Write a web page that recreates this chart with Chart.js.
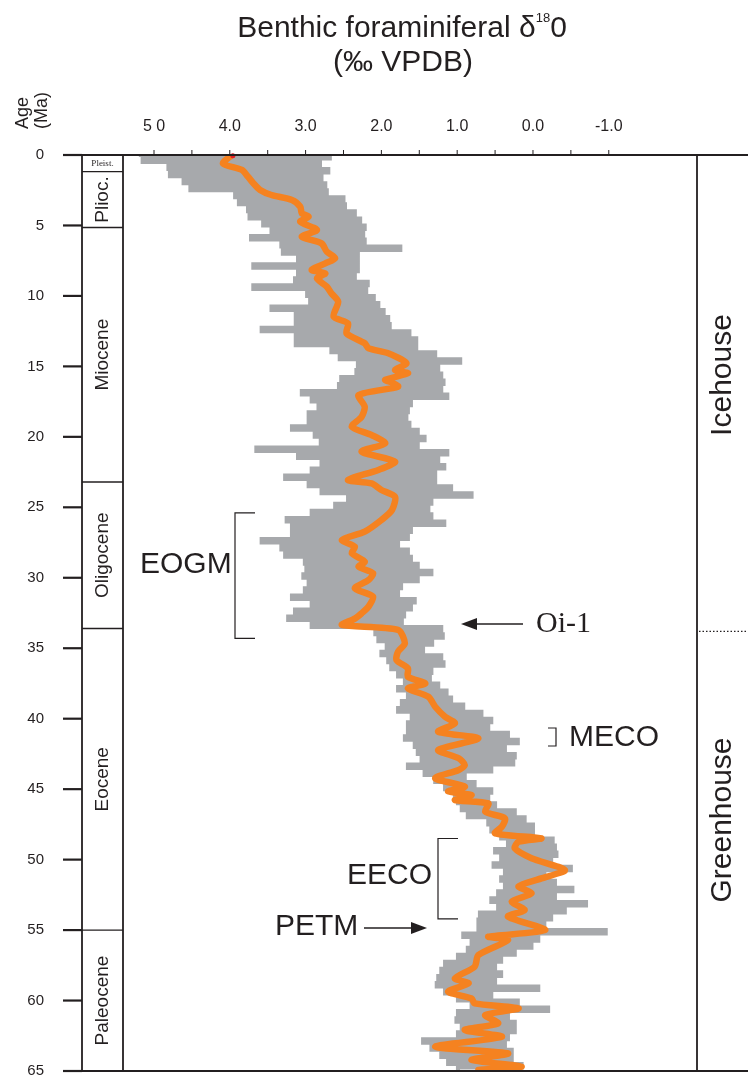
<!DOCTYPE html>
<html>
<head>
<meta charset="utf-8">
<script src="https://cdn.jsdelivr.net/npm/chart.js@4.4.1/dist/chart.umd.min.js"></script>
<style>
  body { margin: 0; background: #fff; }
  canvas { display: block; }
</style>
</head>
<body>
<canvas id="isoChart" width="748" height="1081"></canvas>
<script>
// smoothed curve (orange) : age in Ma / d18O in permil
const orangeAge = [0, 0.6, 1.06, 1.54, 2.0, 2.48, 2.84, 3.19, 3.67, 4.14, 4.38, 4.73, 5.32, 5.8, 6.27, 6.86, 7.33, 7.69,
  8.16, 8.4, 8.75, 9.34, 9.81, 10.41, 11.47, 11.95, 12.66, 13.36, 13.72, 14.07, 14.78, 15.26, 15.49, 15.95, 16.15, 16.44,
  17.03, 17.86, 18.57, 19.28, 19.87, 20.46, 21.05, 21.76, 22.35, 23.06, 23.3, 23.77, 24.25, 25.19, 25.9, 26.73, 27.32,
  27.8, 28.26, 28.86, 29.21, 29.68, 30.16, 30.75, 31.34, 32.05, 32.52, 32.9, 33.35, 33.7, 34.65, 35.24, 35.84, 36.43,
  37.02, 37.5, 37.85, 38.44, 39.15, 39.86, 40.33, 40.92, 41.4, 42.22, 42.81, 43.29, 43.64, 44.23, 44.82, 45.17, 45.41,
  45.77, 46.01, 46.6, 47.07, 47.66, 48.13, 48.49, 48.73, 49.2, 49.9, 50.74, 51.33, 51.9, 52.4, 52.98, 53.58, 54.05,
  55.0, 55.47, 55.7, 56.77, 57.6, 58.43, 58.78, 59.37, 59.85, 60.2, 60.55, 61.03, 61.62, 62.09, 62.57, 63.28, 63.75,
  64.22, 64.69, 64.93];
const orangeD18O = [3.97, 4.09, 3.84, 3.76, 3.69, 3.60, 3.45, 3.18, 3.07, 3.05, 2.96, 3.07, 2.85, 3.05, 2.79, 2.72, 2.61, 2.74,
  2.92, 2.74, 2.85, 2.72, 2.66, 2.57, 2.63, 2.44, 2.46, 2.22, 2.17, 1.91, 1.67, 1.82, 1.65, 1.95, 1.86, 1.78,
  2.30, 2.22, 2.26, 2.39, 2.13, 1.95, 2.26, 1.82, 2.04, 2.44, 2.13, 2.0, 1.82, 1.86, 2.0, 2.22, 2.52,
  2.35, 2.39, 2.22, 2.30, 2.11, 2.17, 2.35, 2.11, 2.17, 2.26, 2.35, 2.52, 1.78, 1.69, 1.78, 1.80, 1.65,
  1.65, 1.42, 1.65, 1.38, 1.29, 1.16, 1.03, 1.25, 0.72, 1.25, 0.98, 0.90, 0.98, 1.29, 0.90, 1.12, 0.81,
  1.03, 0.59, 0.63, 0.37, 0.41, 0.50, -0.11, 0.19, 0.24, 0.02, -0.42, -0.11, 0.19, 0.02, 0.28, 0.11, 0.33,
  -0.16, 0.59, 0.33, 0.72, 0.77, 1.03, 0.85, 1.12, 0.81, 0.77, 0.19, 0.63, 0.46, 0.90, 0.41, 1.29, 0.33,
  0.81, 0.15, 0.72];

// raw data (grey) : heavy side every 0.5 Ma from 0, light side every 0.5 Ma from 0.25
const grayHeavy = [5.2, 5.15, 4.81, 4.79, 4.61, 4.52, 3.93, 3.88, 3.76, 3.74, 3.56, 3.45, 3.72, 3.32, 3.30, 3.10, 3.69, 3.10,
  3.14, 3.69, 2.98, 2.94, 3.45, 3.13, 3.13, 3.58, 3.13, 3.13, 2.66, 2.55, 2.31, 2.33, 2.53, 2.56, 3.05, 2.92, 2.83, 2.96,
  2.96, 3.18, 2.88, 2.80, 3.65, 3.10, 2.79, 2.92, 3.27, 2.96, 2.79, 2.44, 2.61, 2.92, 3.25, 3.18, 3.18, 3.58, 3.32, 3.27,
  3.01, 2.99, 3.03, 2.96, 3.01, 3.18, 2.92, 3.14, 3.23, 2.92, 2.08, 2.04, 1.93, 2.00, 1.91, 1.87, 1.78, 1.69, 1.78, 1.65,
  1.73, 1.78, 1.60, 1.65, 1.65, 1.69, 1.56, 1.52, 1.47, 1.65, 1.43, 1.29, 1.16, 1.03, 0.99, 0.94, 0.86, 0.59, 0.55, 0.42,
  0.33, 0.50, 0.42, 0.52, 0.37, 0.42, 0.37, 0.46, 0.55, 0.46, 0.70, 0.72, 0.72, 0.92, 0.81, 0.86, 0.99, 1.16, 1.21, 1.25,
  1.27, 1.16, 0.99, 0.81, 0.99, 1.01, 0.94, 0.99, 1.45, 1.34, 1.21, 1.12, 0.99];
const grayLight = [2.68, 2.81, 2.70, 2.79, 2.74, 2.72, 2.50, 2.48, 2.35, 2.28, 2.22, 2.24, 2.22, 1.75, 2.31, 2.31, 2.31, 2.35,
  2.18, 2.20, 2.10, 2.04, 1.97, 1.91, 1.89, 1.63, 1.54, 1.54, 1.29, 0.96, 1.25, 1.21, 1.18, 1.21, 1.13, 1.61, 1.65, 1.67,
  1.63, 1.52, 1.43, 1.52, 1.13, 1.25, 1.17, 1.29, 1.29, 1.08, 0.81, 1.34, 1.38, 1.34, 1.17, 1.61, 1.65, 1.78, 1.65, 1.61,
  1.52, 1.34, 1.52, 1.74, 1.78, 1.56, 1.61, 1.70, 1.73, 1.21, 1.19, 1.33, 1.45, 1.21, 1.18, 1.34, 1.36, 1.25, 1.14, 1.08,
  0.92, 0.68, 0.55, 0.59, 0.33, 0.20, 0.37, 0.24, 0.26, 0.55, 0.90, 0.77, 0.55, 0.59, 0.50, 0.24, 0.11, 0.00, 0.00, -0.26,
  -0.29, -0.31, -0.24, -0.50, -0.15, -0.29, -0.52, -0.29, -0.70, -0.42, -0.24, -0.15, -0.96, -0.07, 0.02, 0.24, 0.42, 0.50,
  0.42, 0.50, -0.07, 0.55, 0.20, -0.20, 0.33, 0.24, 0.24, 0.33, 0.37, 0.28, 0.28, 0.15];

// axes
const xTicks = [5, 4.5, 4, 3.5, 3, 2.5, 2, 1.5, 1, 0.5, 0, -0.5, -1];
const yTicks = [0, 5, 10, 15, 20, 25, 30, 35, 40, 45, 50, 55, 60, 65];
const epochs = [
  { name: 'Pleist.', top: 0, base: 1.18 },
  { name: 'Plioc.', top: 1.18, base: 5.14 },
  { name: 'Miocene', top: 5.14, base: 23.2 },
  { name: 'Oligocene', top: 23.2, base: 33.6 },
  { name: 'Eocene', top: 33.6, base: 55.0 },
  { name: 'Paleocene', top: 55.0, base: 65 }
];

const SANS = '"Liberation Sans", Arial, sans-serif';
const SERIF = '"Liberation Serif", "Times New Roman", serif';
const INK = '#231f20';

const grayPts = [];
grayHeavy.forEach((v, k) => {
  grayPts.push({ x: v, y: k * 0.5 });
  if (k < grayLight.length) grayPts.push({ x: grayLight[k], y: k * 0.5 + 0.25 });
});
const orangePts = orangeAge.map((a, i) => ({ x: orangeD18O[i], y: a }));

function vtext(ctx, s, cx, cy, font, align) {
  ctx.save();
  ctx.translate(cx, cy);
  ctx.rotate(-Math.PI / 2);
  ctx.font = font;
  ctx.textAlign = align || 'center';
  ctx.textBaseline = 'middle';
  ctx.fillText(s, 0, 0);
  ctx.restore();
}

function arrow(ctx, from, tip, yy) {
  const dir = tip > from ? 1 : -1;
  ctx.beginPath();
  ctx.moveTo(from, yy);
  ctx.lineTo(tip - dir * 14, yy);
  ctx.lineWidth = 1.3;
  ctx.stroke();
  ctx.beginPath();
  ctx.moveTo(tip, yy);
  ctx.lineTo(tip - dir * 16, yy - 6);
  ctx.lineTo(tip - dir * 16, yy + 6);
  ctx.closePath();
  ctx.fill();
}

function bracket(ctx, xx, y1, y2, len) {
  ctx.beginPath();
  ctx.moveTo(xx + len, y1);
  ctx.lineTo(xx, y1);
  ctx.lineTo(xx, y2);
  ctx.lineTo(xx + len, y2);
  ctx.lineWidth = 1.2;
  ctx.stroke();
}

const frame = {
  id: 'frame',
  afterDatasetsDraw(chart) {
    const { ctx, scales: { x, y } } = chart;
    const top = y.getPixelForValue(0), bot = y.getPixelForValue(65);
    const left = chart.chartArea.left, right = chart.chartArea.right;
    ctx.save();
    ctx.strokeStyle = INK;
    ctx.fillStyle = INK;

    // title
    ctx.textBaseline = 'alphabetic';
    ctx.textAlign = 'left';
    const t1 = 'Benthic foraminiferal δ';
    ctx.font = '30px ' + SANS;
    const w1 = ctx.measureText(t1).width, w3 = ctx.measureText('0').width;
    ctx.font = '13px ' + SANS;
    const w2 = ctx.measureText('18').width;
    let sx = 402 - (w1 + w2 + w3) / 2;
    ctx.font = '30px ' + SANS;
    ctx.fillText(t1, sx, 37);
    ctx.fillText('0', sx + w1 + w2, 37);
    ctx.font = '13px ' + SANS;
    ctx.fillText('18', sx + w1, 22);
    ctx.font = '30px ' + SANS;
    ctx.textAlign = 'center';
    ctx.fillText('(‰ VPDB)', 403, 71);

    // Age (Ma)
    vtext(ctx, 'Age', 23, 129, '18px ' + SANS, 'left');
    vtext(ctx, '(Ma)', 42, 129, '18px ' + SANS, 'left');

    // horizontal top / bottom lines
    ctx.lineWidth = 2;
    ctx.beginPath();
    ctx.moveTo(63, top); ctx.lineTo(748, top);
    ctx.moveTo(63, bot); ctx.lineTo(748, bot);
    ctx.stroke();

    // top axis ticks and labels
    ctx.font = '16px ' + SANS;
    ctx.textAlign = 'center';
    ctx.textBaseline = 'middle';
    ctx.lineWidth = 1;
    xTicks.forEach(v => {
      const px = x.getPixelForValue(v);
      ctx.beginPath();
      ctx.moveTo(px, top); ctx.lineTo(px, top - 5);
      ctx.stroke();
      if (Number.isInteger(v)) {
        ctx.fillText(v === 5 ? '5 0' : v.toFixed(1), px, 127);
      }
    });

    // left axis ticks and labels
    ctx.font = '15px ' + SANS;
    ctx.textAlign = 'right';
    ctx.lineWidth = 2.2;
    yTicks.forEach(a => {
      const py = y.getPixelForValue(a);
      ctx.beginPath();
      ctx.moveTo(63, py); ctx.lineTo(82, py);
      ctx.stroke();
      ctx.fillText(String(a), 44, py);
    });

    // epoch column
    ctx.lineWidth = 1.8;
    ctx.beginPath();
    ctx.moveTo(82, top); ctx.lineTo(82, bot);
    ctx.moveTo(left, top); ctx.lineTo(left, bot);
    ctx.moveTo(right, top); ctx.lineTo(right, bot);
    ctx.stroke();
    ctx.lineWidth = 1.4;
    epochs.forEach(e => {
      const pb = y.getPixelForValue(e.base);
      ctx.beginPath();
      ctx.moveTo(82, pb); ctx.lineTo(left, pb);
      ctx.stroke();
      const mid = (y.getPixelForValue(e.top) + pb) / 2;
      if (e.name === 'Pleist.') {
        ctx.font = '9px ' + SERIF;
        ctx.textAlign = 'center';
        ctx.fillText(e.name, 102.5, mid + 0.5);
      } else {
        vtext(ctx, e.name, 103, mid, '19px ' + SANS);
      }
    });

    // Icehouse / Greenhouse
    const oi = y.getPixelForValue(33.8);
    ctx.lineWidth = 1.3;
    ctx.setLineDash([1.5, 2]);
    ctx.beginPath();
    ctx.moveTo(right + 2, oi); ctx.lineTo(748, oi);
    ctx.stroke();
    ctx.setLineDash([]);
    vtext(ctx, 'Icehouse', 723, 375, '30px ' + SANS);
    vtext(ctx, 'Greenhouse', 723, 820, '30px ' + SANS);

    // events
    ctx.textAlign = 'left';
    ctx.textBaseline = 'middle';
    ctx.font = '30px ' + SANS;
    ctx.fillText('EOGM', 140, 565);
    bracket(ctx, 235, y.getPixelForValue(25.4), y.getPixelForValue(34.3), 20);
    ctx.fillText('MECO', 569, 738);
    bracket(ctx, 556, 728, 746, -8);
    ctx.fillText('EECO', 347, 876);
    bracket(ctx, 438, y.getPixelForValue(48.5), y.getPixelForValue(54.2), 20);
    ctx.fillText('PETM', 275, 927);
    arrow(ctx, 364, 427, 928);
    ctx.font = '30px ' + SERIF;
    ctx.fillText('Oi-1', 536, 624);
    arrow(ctx, 523, 461, 624);

    ctx.restore();
  }
};

new Chart(document.getElementById('isoChart').getContext('2d'), {
  type: 'line',
  data: {
    datasets: [
      {
        label: 'raw',
        data: grayPts,
        borderColor: '#a7a9ac',
        borderWidth: 4,
        stepped: true,
        pointRadius: 0,
        fill: false,
        order: 2
      },
      {
        label: 'smoothed',
        data: orangePts,
        borderColor: '#f58220',
        borderWidth: 6.5,
        tension: 0.25,
        borderCapStyle: 'round',
        borderJoinStyle: 'round',
        pointRadius: 0,
        fill: false,
        order: 1
      },
      {
        label: 'modern',
        data: [{ x: 3.96, y: 0.05 }],
        showLine: false,
        pointRadius: 2.5,
        pointBackgroundColor: '#e31e24',
        pointBorderWidth: 0,
        clip: false,
        order: 0
      }
    ]
  },
  options: {
    responsive: false,
    animation: false,
    layout: { padding: { left: 123, right: 51, top: 155, bottom: 10 } },
    scales: {
      x: { type: 'linear', reverse: true, min: -2.164, max: 5.409, display: false },
      y: { type: 'linear', reverse: true, min: 0, max: 65, display: false }
    },
    plugins: {
      legend: { display: false },
      tooltip: { enabled: false }
    }
  },
  plugins: [frame]
});
</script>
</body>
</html>
